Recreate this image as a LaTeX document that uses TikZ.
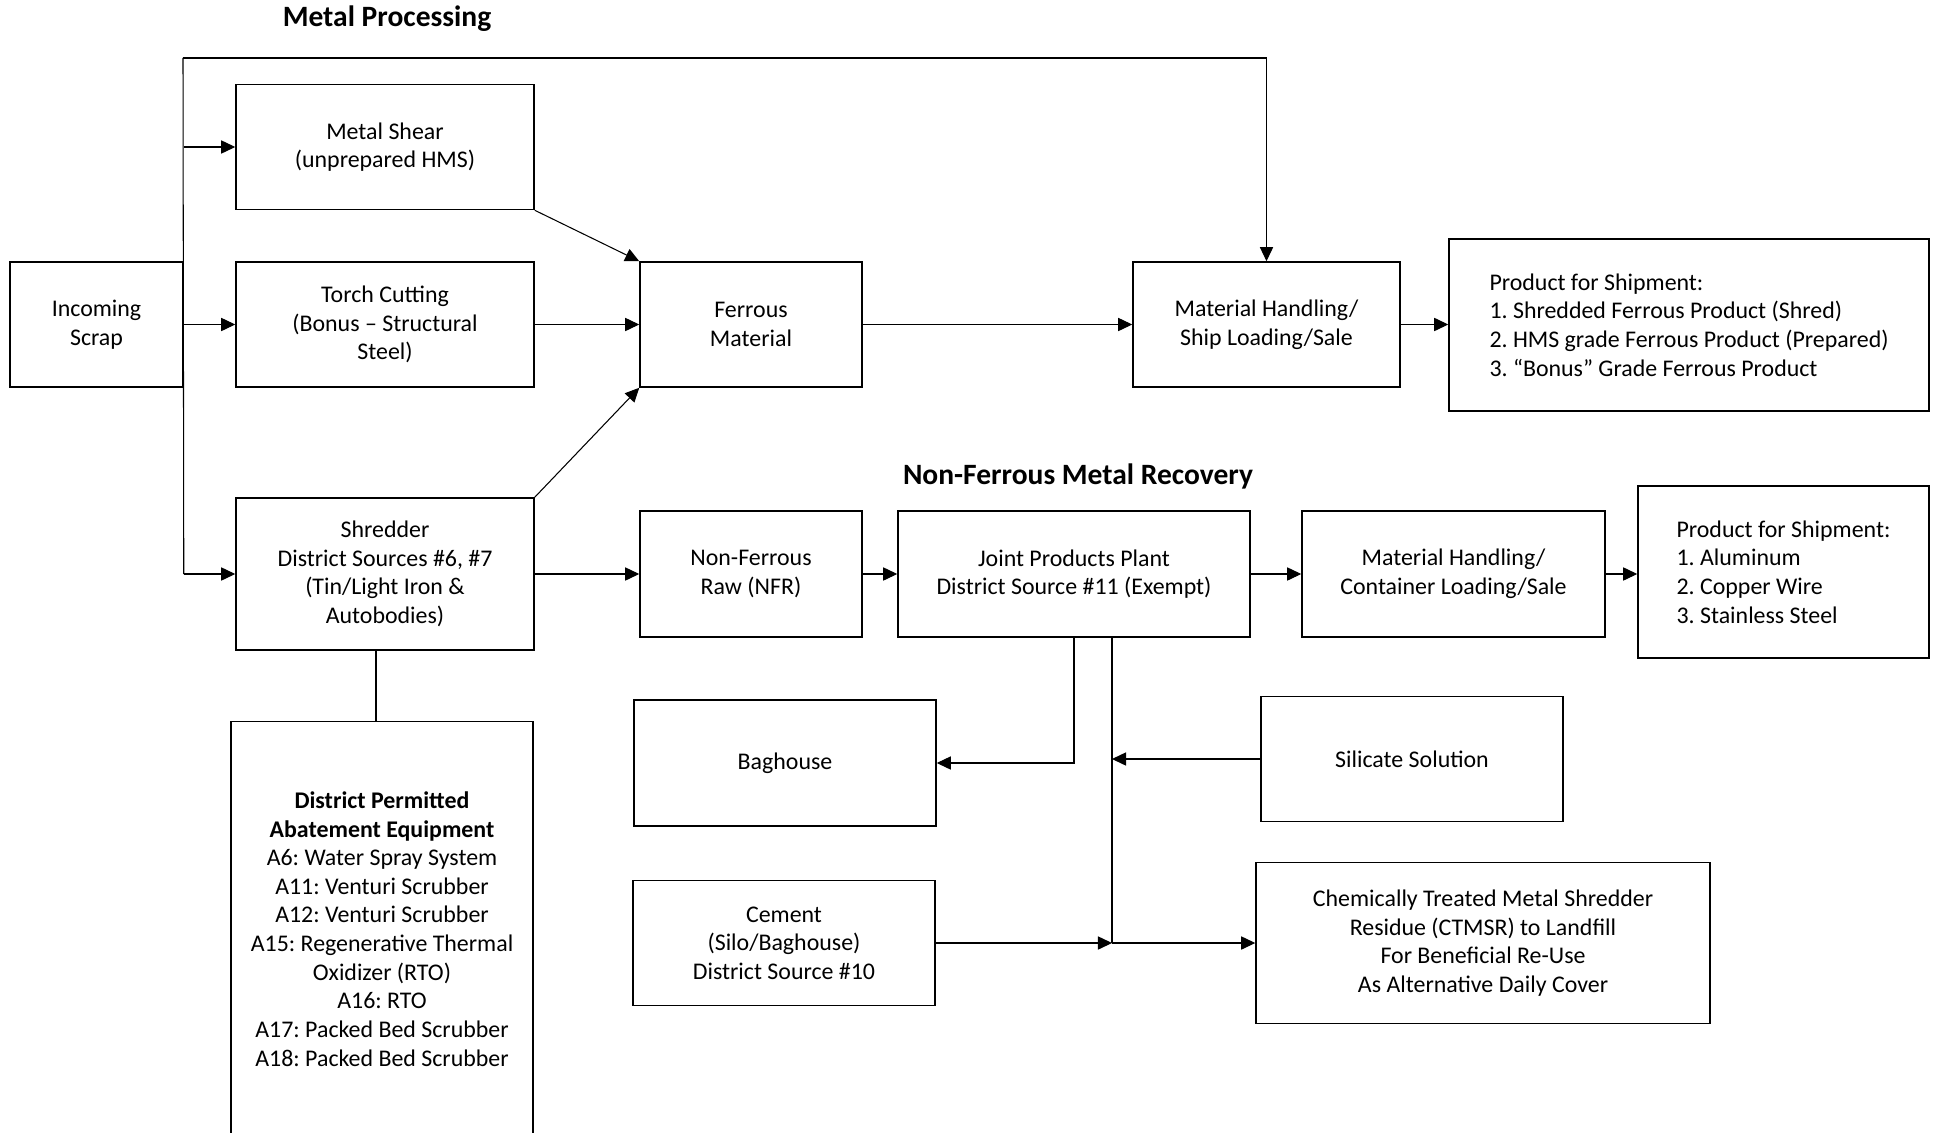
\documentclass[tikz,border=0pt]{standalone}
\usepackage{fontspec}
\setmainfont{Carlito}
\usetikzlibrary{arrows.meta}

\tikzset{
  box/.style={draw, line width=0.9pt, inner sep=2pt, align=center,
    font=\fontsize{13.6}{16.3}\selectfont},
  line/.style={line width=0.6pt},
  arr/.style={line width=0.6pt, -{Triangle[length=8pt,width=7.5pt]}},
  heading/.style={font=\fontsize{16.8}{19}\selectfont\bfseries},
}

\begin{document}
\frenchspacing
\begin{tikzpicture}[x=0.02cm, y=-0.02cm]
  \useasboundingbox (0,0) rectangle (1939,1132);
  % headings
  \node[heading] (hmetal) at (387,19) {Metal Processing};
  \node[heading] (hnonfe) at (1078,476) {Non-Ferrous Metal Recovery};
  % metal processing
  \node[box, minimum width=3.46cm, minimum height=2.5cm] (inc) at (96.5,324.5) {Incoming\\Scrap};
  \node[box, minimum width=5.96cm, minimum height=2.5cm] (shear) at (385,147) {Metal Shear\\(unprepared HMS)};
  \node[box, minimum width=5.96cm, minimum height=2.5cm] (torch) at (385,324.5) {Torch Cutting\\(Bonus – Structural\\Steel)};
  \node[box, minimum width=5.96cm, minimum height=3.04cm] (shred) at (385,574) {Shredder\\District Sources \#6, \#7\\(Tin/Light Iron \&\\Autobodies)};
  \node[box, minimum width=4.44cm, minimum height=2.5cm] (ferr) at (751,324.5) {Ferrous\\Material};
  \node[box, minimum width=5.34cm, minimum height=2.5cm] (mhship) at (1266.5,324.5) {Material Handling/\\Ship Loading/Sale};
  \node[box, align=left, minimum width=9.6cm, minimum height=3.44cm] (prod1) at (1689,325)
    {Product for Shipment:\\1. Shredded Ferrous Product (Shred)\\2. HMS grade Ferrous Product (Prepared)\\3. “Bonus” Grade Ferrous Product};
  % non-ferrous recovery
  \node[box, minimum width=4.44cm, minimum height=2.52cm] (nfr) at (751,574) {Non-Ferrous\\Raw (NFR)};
  \node[box, minimum width=7.04cm, minimum height=2.52cm] (jpp) at (1074,574) {Joint Products Plant\\District Source \#11 (Exempt)};
  \node[box, minimum width=6.06cm, minimum height=2.52cm] (mhcont) at (1453.5,574) {Material Handling/\\Container Loading/Sale};
  \node[box, align=left, minimum width=5.82cm, minimum height=3.44cm] (prod2) at (1783.5,572)
    {Product for Shipment:\\1. Aluminum\\2. Copper Wire\\3. Stainless Steel};
  \node[box, minimum width=6.04cm, minimum height=8.3cm] (abate) at (382,929)
    {\textbf{District Permitted}\\\textbf{Abatement Equipment}\\A6: Water Spray System\\A11: Venturi Scrubber\\A12: Venturi Scrubber\\A15: Regenerative Thermal\\Oxidizer (RTO)\\A16: RTO\\A17: Packed Bed Scrubber\\A18: Packed Bed Scrubber};
  \node[box, minimum width=6.04cm, minimum height=2.52cm] (bag) at (785,763) {Baghouse};
  \node[box, minimum width=6.04cm, minimum height=2.5cm] (sil) at (1412,759) {Silicate Solution};
  \node[box, minimum width=6.04cm, minimum height=2.5cm] (cem) at (784,943) {Cement\\(Silo/Baghouse)\\District Source \#10};
  \node[box, minimum width=9.08cm, minimum height=3.22cm] (ctmsr) at (1483,943)
    {Chemically Treated Metal Shredder\\Residue (CTMSR) to Landfill\\For Beneficial Re-Use\\As Alternative Daily Cover};
  % trunk from incoming scrap
  \coordinate (top) at (183,58);
  \coordinate (junc) at (1112,943);
  \draw[line] (top) -- (inc.east |- shred);
  \draw[arr] (top) -| (mhship.north);
  \draw[arr] (inc.east |- shear) -- (shear.west);
  \draw[arr] (inc.east |- torch) -- (torch.west);
  \draw[arr] (inc.east |- shred) -- (shred.west);
  % into ferrous
  \draw[arr] (shear.south east) -- (ferr.north west);
  \draw[arr] (torch.east) -- (ferr.west);
  \draw[arr] (shred.north east) -- (ferr.south west);
  \draw[arr] (ferr.east) -- (mhship.west);
  \draw[arr] (mhship.east) -- (prod1.west |- mhship);
  % non-ferrous chain
  \draw[arr] (shred.east) -- (nfr.west);
  \draw[arr] (nfr.east) -- (jpp.west);
  \draw[arr] (jpp.east) -- (mhcont.west);
  \draw[arr] (mhcont.east) -- (prod2.west |- mhcont);
  \draw[line] ([xshift=-0.12cm]abate.north) -- ([xshift=-0.12cm]abate.north |- shred.south);
  % residue handling
  \draw[arr] (jpp.south) |- (bag.east);
  \draw[line] (jpp.south -| junc) -- (junc);
  \draw[arr] (sil.west) -- (sil.west -| junc);
  \draw[arr] (cem.east) -- (junc);
  \draw[arr] (junc) -- (ctmsr.west);
\end{tikzpicture}
\end{document}
